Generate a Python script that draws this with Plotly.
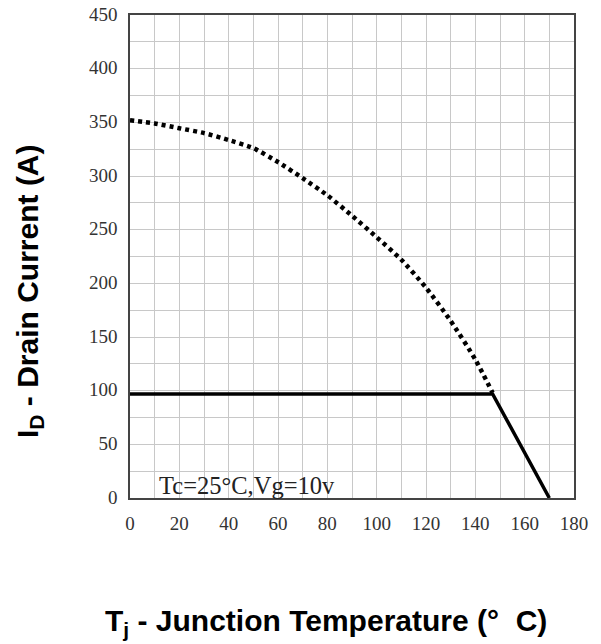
import plotly.graph_objects as go

# Data
temp_limit = [0, 10, 20, 30, 40, 50, 60, 70, 80, 90, 100, 110, 120, 130, 140, 147]
id_limit = [352, 349, 344.5, 340, 333.5, 326, 313, 298, 282, 263, 243, 222, 196, 165, 129, 98]

temp_pkg = [0, 147, 170]
id_pkg = [97, 97, 0]

x_ticks = [0, 20, 40, 60, 80, 100, 120, 140, 160, 180]
y_ticks = [0, 50, 100, 150, 200, 250, 300, 350, 400, 450]

fig = go.Figure()
fig.add_trace(go.Scatter(
    x=temp_limit, y=id_limit, mode="lines",
    line=dict(color="black", width=4.5, dash="4px,4px", shape="spline", smoothing=0.6),
    showlegend=False, hoverinfo="skip"))
fig.add_trace(go.Scatter(
    x=temp_pkg, y=id_pkg, mode="lines",
    line=dict(color="black", width=3.5),
    showlegend=False, hoverinfo="skip"))

tick_font = dict(family="Liberation Serif, Times New Roman, serif", size=19, color="#333333")
grid_col = "#c8c8c8"

fig.update_xaxes(
    range=[0, 180], tickvals=x_ticks, ticktext=[str(v) for v in x_ticks],
    showgrid=True, gridcolor=grid_col, gridwidth=1,
    minor=dict(dtick=10, tick0=0, showgrid=True, gridcolor=grid_col, gridwidth=1),
    showline=True, linecolor="#444444", linewidth=1.5, mirror=True,
    zeroline=False, ticks="", tickfont=tick_font, ticklabelstandoff=7,
    ticklabeloverflow="allow", automargin=False)
fig.update_yaxes(
    range=[0, 450], tickvals=y_ticks, ticktext=[str(v) for v in y_ticks],
    showgrid=True, gridcolor=grid_col, gridwidth=1,
    minor=dict(dtick=25, tick0=0, showgrid=True, gridcolor=grid_col, gridwidth=1),
    showline=True, linecolor="#444444", linewidth=1.5, mirror=True,
    zeroline=False, ticks="", tickfont=tick_font, ticklabelstandoff=7,
    ticklabelshift=-1, ticklabeloverflow="allow", automargin=False)

title_font = dict(family="Liberation Sans, Arial, sans-serif", size=30, color="black",
                  weight="bold")

fig.add_annotation(
    text="T<sub>j</sub> - Junction Temperature (°  C)",
    xref="paper", yref="paper", x=0.441, y=0, yshift=-124,
    xanchor="center", yanchor="middle", showarrow=False,
    font=title_font)
fig.add_annotation(
    text="I<sub>D</sub> - Drain Current (A)",
    xref="paper", yref="paper", x=0, xshift=-100, y=0.4286,
    xanchor="center", yanchor="middle", textangle=-90, showarrow=False,
    font=title_font)
fig.add_annotation(
    text="Tc=25°C,Vg=10v",
    xref="x", yref="paper", x=11, y=0, yshift=13,
    xanchor="left", yanchor="middle", showarrow=False,
    font=dict(family="Liberation Serif, Times New Roman, serif", size=24.5, color="#222222"))

fig.update_layout(
    width=601, height=644,
    margin=dict(l=130, r=27, t=15, b=146),
    paper_bgcolor="white", plot_bgcolor="white",
    font=dict(family="Liberation Sans, Arial, sans-serif"),
)

# remove the default page margin so the figure fills the 601x644 window exactly
fig.write_html("out.html", config={"displayModeBar": False},
               post_script="document.body.style.margin='0';")
